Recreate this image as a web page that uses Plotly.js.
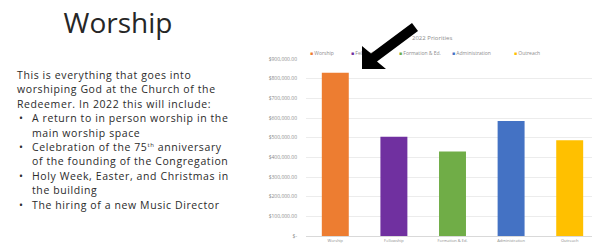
<!DOCTYPE html>
<html><head><meta charset="utf-8">
<script src="https://cdn.plot.ly/plotly-3.0.1.min.js"></script>
<style>
html,body{margin:0;padding:0;width:592px;height:247px;overflow:hidden;background:#fff;}
#chart{position:absolute;left:0;top:0;width:600px;height:247px;}
#heading{position:absolute;left:0;top:3px;width:236px;text-align:center;font-family:"Open Sans",sans-serif;font-size:28px;color:#262626;line-height:38px;}
#body{position:absolute;left:17px;top:68px;width:240px;white-space:nowrap;font-family:"Open Sans",sans-serif;font-size:10.5px;letter-spacing:0.6px;line-height:14.4px;color:#2b2b2b;}
#body ul{margin:0;padding:0;list-style:none;}
#body li{position:relative;padding-left:15px;}
#body li:before{content:"•";position:absolute;left:2px;}
#arrow{position:absolute;left:0;top:0;width:592px;height:247px;pointer-events:none;}
</style></head>
<body>
<div id="chart"></div>
<div id="heading">Worship</div>
<div id="body">This is everything that  goes into<br>worshiping God at the Church of the<br>Redeemer.  In 2022 this will include:
<ul>
<li>A return to in person worship in the<br>main worship space</li>
<li>Celebration of the 75<sup style="font-size:6px;line-height:0">th</sup> anniversary<br>of the founding of the Congregation</li>
<li>Holy Week, Easter, and Christmas in<br>the building</li>
<li>The hiring of a new Music Director</li>
</ul></div>
<svg id="arrow" viewBox="0 0 592 247"><polygon points="362,69 362,46 371,53.5 412,23 418,31 377,61.5 386,69" fill="#000"/></svg>
<script>
var categories = ["Worship", "Fellowship", "Formation & Ed.", "Administration", "Outreach"];
var values = [830000, 505000, 430000, 585000, 487000];
var colors = ["#ED7D31", "#7030A0", "#70AD47", "#4472C4", "#FFC000"];
var tickVals = [0, 100000, 200000, 300000, 400000, 500000, 600000, 700000, 800000, 900000];
var tickText = ["$-", "$100,000.00", "$200,000.00", "$300,000.00", "$400,000.00", "$500,000.00", "$600,000.00", "$700,000.00", "$800,000.00", "$900,000.00"];
var chartTitle = "2022 Priorities";
var legendX = [308, 349, 397, 450, 512];

var W = 600, H = 247, L = 306, R = 1, T = 59, B = 11;
var pw = W - L - R, ph = H - T - B;
function px(x){ return (x - L) / pw; }
function py(y){ return (H - B - y) / ph; }

var traces = categories.map(function(c, i){
  return {type:"bar", x:[c], y:[values[i]], name:c, marker:{color:colors[i]}, width:0.46, hoverinfo:"none", showlegend:false};
});

var annotations = categories.map(function(c, i){
  return {xref:"paper", yref:"paper", x:px(legendX[i]), y:py(53), xanchor:"left", yanchor:"middle", showarrow:false,
    text:'<span style="color:' + colors[i] + '">■</span> ' + c, font:{size:5, color:"#8c8c8c"}};
});
annotations.push({xref:"paper", yref:"paper", x:px(432), y:py(38), xanchor:"center", yanchor:"middle", showarrow:false,
  text:chartTitle, font:{size:6, color:"#8c8c8c"}});

var layout = {
  width: W, height: H,
  margin: {l:L, r:R, t:T, b:B, pad:0},
  paper_bgcolor: "#fff", plot_bgcolor: "#fff",
  barmode: "overlay",
  showlegend: false,
  font: {family:"Open Sans, sans-serif", size:5, color:"#8c8c8c"},
  annotations: annotations,
  xaxis: {type:"category", showgrid:false, showline:true, linecolor:"#d9d9d9", linewidth:1, ticks:"", tickfont:{size:4, color:"#8c8c8c"}, range:[-0.5, 4.5], fixedrange:true},
  yaxis: {range:[0, 900000], tickvals:tickVals, ticktext:tickText, showgrid:true, gridcolor:"#ececec", gridwidth:1, zeroline:false, ticks:"", ticklabelstandoff:8, tickfont:{size:5, color:"#8c8c8c"}, fixedrange:true}
};
Plotly.newPlot("chart", traces, layout, {staticPlot:true});
</script>
</body></html>
